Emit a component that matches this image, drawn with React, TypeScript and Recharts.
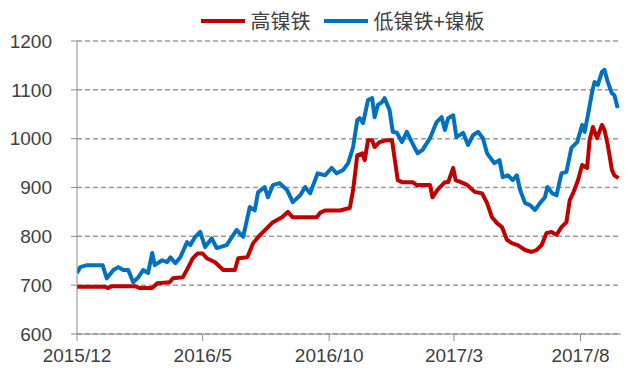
import { LineChart, Line, XAxis, YAxis, CartesianGrid } from 'recharts'

// days counted from 2015-12-01
const tickDays = [0, 152, 305, 456, 609]
const tickLabels = ['2015/12', '2016/5', '2016/10', '2017/3', '2017/8']
const yTicks = [600, 700, 800, 900, 1000, 1100, 1200]

const seriesNames = ['高镍铁', '低镍铁+镍板']

const highDays = [
  0, 34, 37, 42, 70, 76, 91, 97, 112, 116, 128, 134, 140, 146, 152, 157, 167, 177, 191, 195,
  206, 213, 221, 230, 237, 248, 255, 261, 290, 294, 300, 318, 330, 334, 339, 345, 348, 352, 357, 360,
  366, 375, 381, 384, 388, 393, 406, 411, 427, 430, 436, 445, 449, 455, 458, 467, 472, 481, 490, 496,
  502, 508, 514, 520, 526, 533, 542, 550, 556, 562, 568, 574, 580, 586, 592, 596, 600, 606, 611, 617,
  620, 624, 629, 635, 638, 642, 647, 650, 655,
]
const highValues = [
  697, 697, 694, 698, 698, 694, 694, 704, 706, 714, 716, 735, 755, 765, 765, 755, 747, 731, 731, 755,
  757, 786, 802, 817, 829, 839, 850, 839, 839, 848, 853, 853, 858, 895, 966, 970, 956, 997, 997, 983,
  993, 997, 997, 962, 915, 911, 911, 905, 905, 880, 895, 911, 911, 940, 915, 909, 905, 891, 888, 868,
  839, 827, 819, 793, 786, 782, 772, 768, 772, 782, 807, 809, 803, 819, 829, 874, 888, 915, 946, 940,
  997, 1024, 1001, 1028, 1018, 987, 936, 925, 919,
]

const lowDays = [
  0, 4, 12, 24, 31, 36, 44, 50, 56, 62, 68, 74, 80, 86, 91, 94, 103, 109, 113, 119,
  125, 133, 137, 143, 149, 155, 163, 169, 181, 193, 201, 209, 215, 219, 227, 231, 237, 245, 254, 261,
  270, 276, 282, 291, 300, 308, 314, 322, 328, 334, 339, 342, 346, 352, 357, 360, 364, 369, 372, 378,
  382, 387, 393, 399, 405, 412, 418, 427, 435, 441, 445, 449, 455, 459, 467, 473, 479, 485, 491, 496,
  502, 505, 511, 515, 521, 527, 532, 536, 542, 548, 554, 560, 566, 569, 575, 580, 586, 592, 598, 605,
  611, 614, 618, 623, 626, 630, 635, 638, 642, 647, 650, 654,
]
const lowValues = [
  725, 737, 741, 741, 741, 714, 731, 737, 731, 731, 706, 716, 731, 725, 766, 741, 751, 747, 757, 745,
  757, 788, 782, 799, 809, 778, 796, 776, 782, 813, 799, 860, 853, 890, 901, 880, 905, 909, 895, 870,
  884, 901, 888, 929, 925, 940, 929, 936, 950, 983, 1038, 1042, 1032, 1079, 1083, 1044, 1069, 1075, 1083, 1059,
  1014, 1012, 993, 1014, 993, 970, 977, 1001, 1034, 1044, 1018, 1042, 1048, 1003, 1012, 987, 1007, 1014, 1001, 970,
  956, 950, 956, 921, 925, 915, 925, 895, 868, 864, 854, 868, 880, 901, 888, 884, 929, 932, 981, 993,
  1028, 1014, 1048, 1095, 1116, 1110, 1137, 1141, 1116, 1093, 1089, 1063,
]

const highData = highDays.map((d, i) => ({ d, v: highValues[i] }))
const lowData = lowDays.map((d, i) => ({ d, v: lowValues[i] }))

const colors = ['#C00000', '#0070C0']
const textColor = '#404040'
const axisFont = { fill: textColor, fontSize: 19, fontFamily: '"Liberation Sans", Arial, sans-serif' }

function LegendBox() {
  return (
    <div style={{ position: 'absolute', top: 6, left: 0, width: 640, display: 'flex', justifyContent: 'center', alignItems: 'center', fontFamily: '"Noto Sans CJK SC", sans-serif', fontSize: 20, color: textColor, paddingLeft: 60, boxSizing: 'border-box' }}>
      {seriesNames.map((name, i) => (
        <div key={name} style={{ display: 'flex', alignItems: 'center', marginRight: 14 }}>
          <span style={{ display: 'inline-block', width: 44, height: 4, background: colors[i], marginRight: 5 }} />
          <span>{name}</span>
        </div>
      ))}
    </div>
  )
}

export default function App() {
  return (
    <div style={{ position: 'absolute', left: 0, top: 0, width: 640, height: 377, background: '#fff' }}>
      <LineChart width={640} height={377} margin={{ top: 41, right: 19, bottom: 13, left: 17 }}>
        <CartesianGrid vertical={false} stroke="#9a9a9a" strokeDasharray="5 3" strokeWidth={1.5} />
        <XAxis
          type="number"
          dataKey="d"
          domain={[0, 658]}
          ticks={tickDays}
          tickFormatter={(v: number) => tickLabels[tickDays.indexOf(v)] ?? ''}
          allowDataOverflow
          height={30}
          tickSize={7}
          tickMargin={8}
          stroke="#8c8c8c"
          tick={axisFont}
        />
        <YAxis
          type="number"
          domain={[600, 1200]}
          ticks={yTicks}
          width={60}
          tickSize={6}
          tickMargin={19}
          stroke="#8c8c8c"
          tick={axisFont}
        />
        <Line data={highData} dataKey="v" name={seriesNames[0]} stroke={colors[0]} strokeWidth={4} dot={false} isAnimationActive={false} strokeLinejoin="round" />
        <Line data={lowData} dataKey="v" name={seriesNames[1]} stroke={colors[1]} strokeWidth={4} dot={false} isAnimationActive={false} strokeLinejoin="round" />
      </LineChart>
      <LegendBox />
    </div>
  )
}
